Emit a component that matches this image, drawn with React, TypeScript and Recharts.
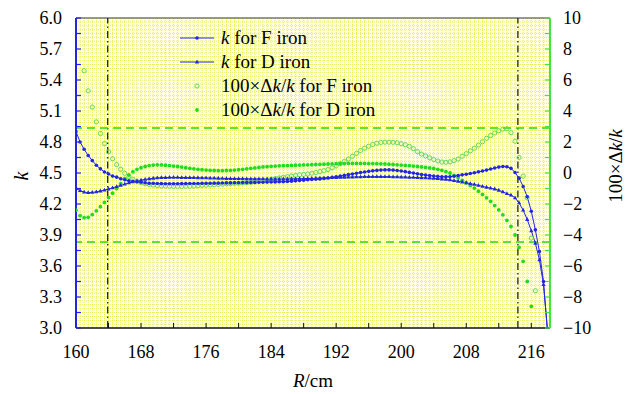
import { ComposedChart, Line, XAxis, YAxis, CartesianGrid, ReferenceLine, Legend } from "recharts";

const SERIF = "'Liberation Serif', 'Times New Roman', Times, 'DejaVu Serif', serif";
const BLUE = "#2424e6";
const GREEN = "#1fdc1f";
const GREEN_OPEN = "#63d863";
const AXIS_GREEN = "#3ee63e";

// radius R (cm), sampled every 0.5 cm
const R = [
  160, 160.5, 161, 161.5, 162, 162.5, 163, 163.5, 164, 164.5,
  165, 165.5, 166, 166.5, 167, 167.5, 168, 168.5, 169, 169.5,
  170, 170.5, 171, 171.5, 172, 172.5, 173, 173.5, 174, 174.5,
  175, 175.5, 176, 176.5, 177, 177.5, 178, 178.5, 179, 179.5,
  180, 180.5, 181, 181.5, 182, 182.5, 183, 183.5, 184, 184.5,
  185, 185.5, 186, 186.5, 187, 187.5, 188, 188.5, 189, 189.5,
  190, 190.5, 191, 191.5, 192, 192.5, 193, 193.5, 194, 194.5,
  195, 195.5, 196, 196.5, 197, 197.5, 198, 198.5, 199, 199.5,
  200, 200.5, 201, 201.5, 202, 202.5, 203, 203.5, 204, 204.5,
  205, 205.5, 206, 206.5, 207, 207.5, 208, 208.5, 209, 209.5,
  210, 210.5, 211, 211.5, 212, 212.5, 213, 213.5, 214, 214.5,
  215, 215.5, 216, 216.5, 217, 217.5, 218,
];

// k for F iron
const K_F = [
  4.9, 4.8, 4.73, 4.67, 4.62, 4.575, 4.54, 4.51, 4.49, 4.47,
  4.46, 4.445, 4.435, 4.425, 4.42, 4.415, 4.41, 4.405, 4.4, 4.4,
  4.398, 4.397, 4.396, 4.396, 4.396, 4.396, 4.397, 4.397, 4.398, 4.399,
  4.399, 4.4, 4.4, 4.401, 4.402, 4.402, 4.403, 4.404, 4.404, 4.405,
  4.406, 4.407, 4.407, 4.408, 4.409, 4.41, 4.411, 4.412, 4.413, 4.414,
  4.415, 4.416, 4.418, 4.421, 4.424, 4.427, 4.43, 4.434, 4.437, 4.44,
  4.443, 4.447, 4.452, 4.458, 4.464, 4.47, 4.477, 4.484, 4.491, 4.497,
  4.504, 4.51, 4.516, 4.521, 4.525, 4.528, 4.53, 4.53, 4.528, 4.524,
  4.519, 4.513, 4.506, 4.499, 4.492, 4.486, 4.48, 4.475, 4.471, 4.467,
  4.464, 4.463, 4.464, 4.469, 4.476, 4.482, 4.488, 4.495, 4.503, 4.511,
  4.519, 4.528, 4.538, 4.548, 4.557, 4.563, 4.56, 4.545, 4.505, 4.45,
  4.37, 4.27, 4.13, 3.95, 3.74, 3.45, 2.95,
];

// k for D iron
const K_D = [
  4.35, 4.33, 4.315, 4.31, 4.312, 4.318, 4.326, 4.335, 4.345, 4.357,
  4.368, 4.38, 4.392, 4.404, 4.414, 4.423, 4.431, 4.438, 4.444, 4.449,
  4.452, 4.455, 4.456, 4.457, 4.457, 4.457, 4.456, 4.456, 4.455, 4.455,
  4.454, 4.453, 4.452, 4.451, 4.45, 4.449, 4.448, 4.447, 4.446, 4.446,
  4.445, 4.445, 4.444, 4.444, 4.443, 4.443, 4.443, 4.442, 4.442, 4.442,
  4.442, 4.442, 4.443, 4.443, 4.444, 4.445, 4.446, 4.447, 4.448, 4.449,
  4.45, 4.452, 4.453, 4.455, 4.456, 4.458, 4.459, 4.46, 4.461, 4.462,
  4.463, 4.464, 4.464, 4.465, 4.465, 4.465, 4.465, 4.464, 4.463, 4.462,
  4.461, 4.46, 4.458, 4.457, 4.455, 4.454, 4.452, 4.45, 4.448, 4.445,
  4.442, 4.438, 4.433, 4.427, 4.42, 4.413, 4.405, 4.397, 4.389, 4.38,
  4.371, 4.362, 4.353, 4.345, 4.333, 4.318, 4.3, 4.285, 4.26, 4.21,
  4.14, 4.05, 3.94, 3.82, 3.66, 3.42, 2.98,
];

// 100*dk/k for F iron
const DK_F = [
  null, null, 6.6, 5.3, 4.25, 3.3, 2.55, 1.9, 1.37, 0.92,
  0.54, 0.24, -0.02, -0.24, -0.41, -0.53, -0.62, -0.69, -0.74, -0.78,
  -0.81, -0.83, -0.84, -0.85, -0.86, -0.86, -0.86, -0.85, -0.85, -0.84,
  -0.82, -0.8, -0.79, -0.77, -0.76, -0.74, -0.72, -0.7, -0.69, -0.67,
  -0.66, -0.64, -0.62, -0.6, -0.57, -0.53, -0.49, -0.45, -0.41, -0.36,
  -0.32, -0.28, -0.24, -0.2, -0.16, -0.12, -0.09, -0.06, -0.02, 0.03,
  0.09, 0.15, 0.22, 0.33, 0.46, 0.6, 0.74, 0.9, 1.08, 1.27,
  1.45, 1.6, 1.73, 1.84, 1.92, 1.97, 1.99, 1.99, 1.98, 1.95,
  1.89, 1.82, 1.72, 1.57, 1.38, 1.22, 1.1, 0.98, 0.87, 0.77,
  0.71, 0.69, 0.72, 0.8, 0.9, 1.08, 1.25, 1.43, 1.6, 1.8,
  2.02, 2.24, 2.42, 2.58, 2.72, 2.83, 2.85, 2.6, 2.05, 1.0,
  -0.2, -1.6, -4.2, -7.6, null, null, null,
];

// 100*dk/k for D iron
const DK_D = [
  -2.4, -2.75, -2.88, -2.86, -2.68, -2.44, -2.17, -1.9, -1.58, -1.3,
  -1.0, -0.68, -0.36, -0.13, 0.08, 0.24, 0.34, 0.42, 0.48, 0.51,
  0.53, 0.52, 0.5, 0.48, 0.45, 0.42, 0.38, 0.34, 0.3, 0.27,
  0.24, 0.21, 0.19, 0.17, 0.16, 0.15, 0.15, 0.16, 0.17, 0.19,
  0.21, 0.24, 0.27, 0.3, 0.33, 0.36, 0.39, 0.41, 0.43, 0.45,
  0.46, 0.47, 0.48, 0.49, 0.5, 0.51, 0.52, 0.53, 0.54, 0.55,
  0.56, 0.57, 0.58, 0.59, 0.6, 0.61, 0.61, 0.62, 0.62, 0.62,
  0.62, 0.62, 0.61, 0.61, 0.6, 0.59, 0.58, 0.57, 0.55, 0.53,
  0.51, 0.49, 0.47, 0.45, 0.42, 0.39, 0.36, 0.33, 0.29, 0.24,
  0.17, 0.09, 0.0, -0.15, -0.3, -0.47, -0.63, -0.8, -0.97, -1.17,
  -1.38, -1.6, -1.83, -2.1, -2.38, -2.7, -3.05, -3.45, -4.0, -4.8,
  -5.7, -7.0, -8.6, null, null, null, null,
];

const X_DOMAIN = [160, 218.3];
const X_MAJOR = [160, 164, 168, 172, 176, 180, 184, 188, 192, 196, 200, 204, 208, 212, 216];
const X_MINOR = Array.from({ length: 117 }, (_, i) => 160 + i * 0.5);
const LEFT_TICKS = [3.0, 3.15, 3.3, 3.45, 3.6, 3.75, 3.9, 4.05, 4.2, 4.35, 4.5, 4.65, 4.8, 4.95, 5.1, 5.25, 5.4, 5.55, 5.7, 5.85, 6.0];
const RIGHT_TICKS = [-10, -9, -8, -7, -6, -5, -4, -3, -2, -1, 0, 1, 2, 3, 4, 5, 6, 7, 8, 9, 10];
const GRID_Y = Array.from({ length: 79 }, (_, i) => -9.75 + i * 0.25);
const BOUNDARIES = [163.9, 214.35];
const LIMITS = [2.9, -4.45];

const data = R.map((r, i) => ({ R: r, kF: K_F[i], kD: K_D[i], dF: DK_F[i], dD: DK_D[i] }));

const tickFont = { fontSize: 18, fill: "#000", fontFamily: SERIF };

function DotF(p: any) {
  if (p.cy == null || p.value == null) return <g key={p.index} />;
  return <circle key={p.index} cx={p.cx} cy={p.cy} r={1.8} fill={BLUE} />;
}

function DotD(p: any) {
  if (p.cy == null || p.value == null) return <g key={p.index} />;
  const { cx, cy } = p;
  return <polygon key={p.index} points={`${cx},${cy - 2.4} ${cx + 2.1},${cy + 1.4} ${cx - 2.1},${cy + 1.4}`} fill={BLUE} />;
}

function OpenDot(p: any) {
  if (p.cy == null || p.value == null) return <g key={p.index} />;
  return <circle key={p.index} cx={p.cx} cy={p.cy} r={2.1} fill="none" stroke={GREEN_OPEN} strokeWidth={1} />;
}

function FilledDot(p: any) {
  if (p.cy == null || p.value == null) return <g key={p.index} />;
  return <circle key={p.index} cx={p.cx} cy={p.cy} r={1.9} fill={GREEN} />;
}

// italic k wherever it appears
function rich(text: string) {
  const parts = text.split("k");
  return parts.map((s, i) => (
    <span key={i}>
      {i > 0 && <i>k</i>}
      {s}
    </span>
  ));
}

const LEGEND_ITEMS = [
  { key: "kF", label: "k for F iron", icon: "lineDot" },
  { key: "kD", label: "k for D iron", icon: "lineTri" },
  { key: "dF", label: "100×Δk/k for F iron", icon: "open" },
  { key: "dD", label: "100×Δk/k for D iron", icon: "filled" },
];

function LegendIcon({ icon }: { icon: string }) {
  return (
    <svg width={34} height={24} style={{ display: "block" }}>
      {(icon === "lineDot" || icon === "lineTri") && <line x1={0} x2={34} y1={12} y2={12} stroke={BLUE} strokeWidth={1} />}
      {icon === "lineDot" && <circle cx={17} cy={12} r={1.8} fill={BLUE} />}
      {icon === "lineTri" && <polygon points="17,9.6 19.1,13.4 14.9,13.4" fill={BLUE} />}
      {icon === "open" && <circle cx={17} cy={12} r={2.1} fill="none" stroke={GREEN_OPEN} />}
      {icon === "filled" && <circle cx={17} cy={12} r={1.9} fill={GREEN} />}
    </svg>
  );
}

function ChartLegend() {
  return (
    <div style={{ fontFamily: SERIF, fontSize: 19, color: "#000" }}>
      {LEGEND_ITEMS.map((it) => (
        <div key={it.key} style={{ display: "flex", alignItems: "center", height: 24 }}>
          <LegendIcon icon={it.icon} />
          <span style={{ marginLeft: 7, whiteSpace: "nowrap" }}>{rich(it.label)}</span>
        </div>
      ))}
    </div>
  );
}

function LeftTitle(props: any) {
  const vb = props.viewBox || { x: 75, y: 18, width: 1, height: 310 };
  const cx = vb.x + vb.width - 55;
  const cy = vb.y + vb.height / 2 + 3;
  return (
    <text x={cx} y={cy} transform={`rotate(-90 ${cx} ${cy})`} textAnchor="middle" dominantBaseline="central" fontFamily={SERIF} fontSize={20} fontStyle="italic" fill="#000">
      k
    </text>
  );
}

function RightTitle(props: any) {
  const vb = props.viewBox || { x: 550, y: 18, width: 1, height: 310 };
  const cx = vb.x + 65;
  const cy = vb.y + vb.height / 2 - 7;
  return (
    <text x={cx} y={cy} transform={`rotate(-90 ${cx} ${cy})`} textAnchor="middle" dominantBaseline="central" fontFamily={SERIF} fontSize={19} fill="#000">
      100×Δ<tspan fontStyle="italic">k</tspan>/<tspan fontStyle="italic">k</tspan>
    </text>
  );
}

function BottomTitle(props: any) {
  const vb = props.viewBox || { x: 76, y: 328, width: 474, height: 1 };
  const cx = vb.x + vb.width / 2;
  const cy = vb.y + 59;
  return (
    <text x={cx} y={cy} textAnchor="middle" fontFamily={SERIF} fontSize={19} fill="#000">
      <tspan fontStyle="italic">R</tspan>/cm
    </text>
  );
}

const fmtBottom = (v: number) => (v % 8 === 0 ? String(v) : "");
const fmtLeft = (v: number, i: number) => (i % 2 === 0 ? v.toFixed(1) : "");
const fmtRight = (v: number) => (v % 2 === 0 ? (v < 0 ? "\u2212" + Math.abs(v) : String(v)) : "");

export default function App() {
  return (
    <div style={{ position: "absolute", left: 0, top: 0, width: 629, height: 394, background: "#fff", fontFamily: SERIF }}>
      <ComposedChart width={629} height={394} data={data} margin={{ top: 16, right: 78, bottom: 64, left: 75 }} style={{ fontFamily: SERIF }}>
        <CartesianGrid
          xAxisId="main"
          yAxisId="right"
          fill="#ffffea"
          stroke="#ecec5c"
          strokeDasharray="1 1"
          verticalValues={X_MINOR.slice(1, -1)}
          horizontalValues={GRID_Y}
        />
        <XAxis xAxisId="main" type="number" dataKey="R" domain={X_DOMAIN} allowDataOverflow ticks={X_MAJOR} interval={0}
          height={1} tickSize={-5} tickMargin={22} tickFormatter={fmtBottom} tick={tickFont}
          axisLine={{ stroke: "#111", strokeWidth: 1.5 }} tickLine={{ stroke: "#111" }} label={<BottomTitle />} />
        <XAxis xAxisId="minor" type="number" dataKey="R" domain={X_DOMAIN} allowDataOverflow ticks={X_MINOR} interval={0}
          height={1} tickSize={-3} tick={false} axisLine={false} tickLine={{ stroke: "#111" }} />
        <XAxis xAxisId="topMajor" orientation="top" type="number" dataKey="R" domain={X_DOMAIN} allowDataOverflow ticks={X_MAJOR} interval={0}
          height={1} tickSize={-5} tick={false} axisLine={{ stroke: "#333", strokeWidth: 1.2 }} tickLine={{ stroke: "#111" }} />
        <XAxis xAxisId="topMinor" orientation="top" type="number" dataKey="R" domain={X_DOMAIN} allowDataOverflow ticks={X_MINOR} interval={0}
          height={1} tickSize={-3} tick={false} axisLine={false} tickLine={{ stroke: "#111" }} />
        <YAxis yAxisId="left" type="number" domain={[3, 6]} allowDataOverflow ticks={LEFT_TICKS} interval={0}
          width={1} tickSize={-5} tickMargin={19} tickFormatter={fmtLeft} tick={tickFont}
          axisLine={{ stroke: BLUE, strokeWidth: 2 }} tickLine={{ stroke: BLUE, strokeWidth: 1.2 }} label={<LeftTitle />} />
        <YAxis yAxisId="right" orientation="right" type="number" domain={[-10, 10]} allowDataOverflow ticks={RIGHT_TICKS} interval={0}
          width={1} tickSize={-5} tickMargin={18} tickFormatter={fmtRight} tick={tickFont}
          axisLine={{ stroke: AXIS_GREEN, strokeWidth: 2 }} tickLine={{ stroke: AXIS_GREEN, strokeWidth: 1.2 }} label={<RightTitle />} />

        {BOUNDARIES.map((x) => (
          <ReferenceLine key={x} xAxisId="main" yAxisId="left" x={x} stroke="#111" strokeWidth={1.2} strokeDasharray="7 3 1.5 3" />
        ))}
        {LIMITS.map((y) => (
          <ReferenceLine key={y} xAxisId="main" yAxisId="right" y={y} stroke={GREEN} strokeWidth={1.5} strokeDasharray="8 5" />
        ))}

        <Line xAxisId="main" yAxisId="right" dataKey="dF" name="100×Δk/k for F iron" stroke="none" dot={OpenDot} activeDot={false} isAnimationActive={false} />
        <Line xAxisId="main" yAxisId="right" dataKey="dD" name="100×Δk/k for D iron" stroke="none" dot={FilledDot} activeDot={false} isAnimationActive={false} />
        <Line xAxisId="main" yAxisId="left" dataKey="kF" name="k for F iron" type="linear" stroke={BLUE} strokeWidth={1} dot={DotF} activeDot={false} isAnimationActive={false} />
        <Line xAxisId="main" yAxisId="left" dataKey="kD" name="k for D iron" type="linear" stroke={BLUE} strokeWidth={1} dot={DotD} activeDot={false} isAnimationActive={false} />

        <Legend layout="vertical" align="center" verticalAlign="middle" content={<ChartLegend />}
          wrapperStyle={{ left: 180, top: 26, width: 320, height: 96 }} />
      </ComposedChart>
    </div>
  );
}
